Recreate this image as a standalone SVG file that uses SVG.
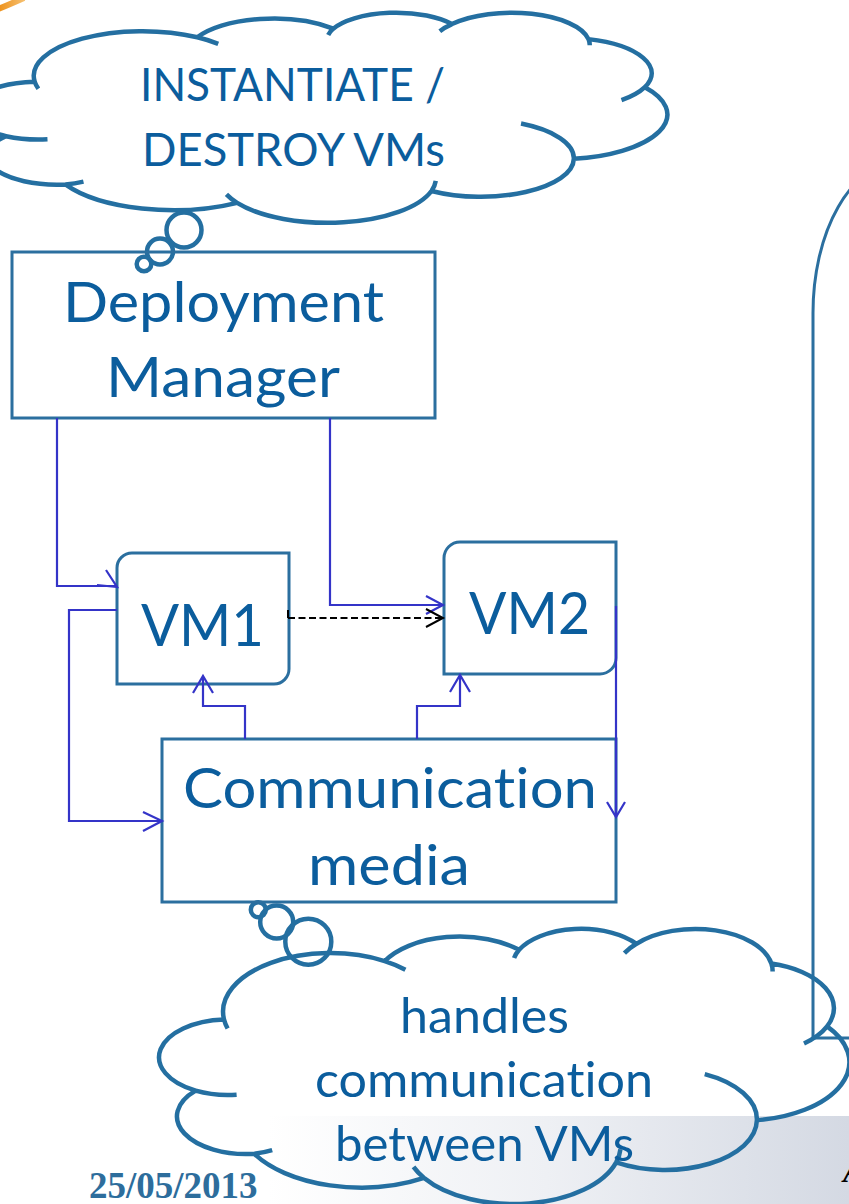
<svg xmlns="http://www.w3.org/2000/svg" width="849" height="1204" viewBox="0 0 849 1204">
  <defs>
    <linearGradient id="footerFade" x1="0" y1="0" x2="1" y2="0">
      <stop offset="0" stop-color="#ffffff"/>
      <stop offset="0.48" stop-color="#eef0f4"/>
      <stop offset="1" stop-color="#d4d9e3"/>
    </linearGradient>
    <linearGradient id="swoosh" gradientUnits="userSpaceOnUse" x1="0" y1="0" x2="26" y2="0">
      <stop offset="0" stop-color="#ee9420"/>
      <stop offset="1" stop-color="#f6c274"/>
    </linearGradient>
    <!-- cloud outline in a 100x100 box: eleven lobes plus the inner lobe tails -->
    <path id="cloud" vector-effect="non-scaling-stroke" d="M9.03 33.26 A15.63 21.27 0 0 1 32.42 12.04 A12.35 16.82 0 0 1 51.98 7.94 A10.10 13.76 0 0 1 69.06 5.75 A11.24 15.27 0 0 1 88.70 12.91 A12.35 16.84 0 0 1 96.81 35.79 A15.68 21.34 0 0 1 86.59 69.92 A13.39 18.21 0 0 1 66.11 85.22 A15.63 21.33 0 0 1 38.15 90.89 A17.87 24.41 0 0 1 13.44 82.11 A10.09 13.70 0 0 1 4.90 59.14 A10.06 13.76 0 0 1 9.03 33.26 Z M10.86 60.60 A10.06 13.76 0 0 1 4.90 59.14 M16.04 80.78 A10.09 13.70 0 0 1 13.44 82.11 M38.15 90.89 A15.63 21.33 0 0 1 36.61 86.87 M66.73 80.44 A15.63 21.33 0 0 1 66.11 85.22 M79.00 53.13 A13.39 18.21 0 0 1 86.59 69.92 M96.81 35.79 A12.35 16.84 0 0 1 93.45 41.99 M88.70 12.91 A11.24 15.27 0 0 1 88.88 15.83 M67.31 9.15 A11.24 15.27 0 0 1 69.06 5.75 M51.25 10.93 A10.10 13.76 0 0 1 51.98 7.94 M32.42 12.04 A15.63 21.27 0 0 1 35.43 15.16 M9.55 36.55 A15.63 21.27 0 0 1 9.03 33.26"/>
  </defs>
  <style>
    .cloud { fill: none; stroke: #246fa1; stroke-width: 4.5; }
    .bubble { fill: none; stroke: #246fa1; stroke-width: 4.5; }
    .box { fill: none; stroke: #2b6f9f; stroke-width: 3; }
    .label { font-family: Lato, "Open Sans", "DejaVu Sans", sans-serif; fill: #0b5d9d; font-variant-ligatures: none; font-feature-settings: "liga" 0, "clig" 0, "dlig" 0; }
    .link { fill: none; stroke: #3434c8; stroke-width: 2.2; }
    .dashed { fill: none; stroke: #000000; stroke-width: 2; stroke-dasharray: 7 3.5; }
    .tick { fill: none; stroke: #000000; stroke-width: 2; }
    .head { fill: none; stroke: #3434c8; stroke-width: 2.2; stroke-linejoin: miter; }
    .head-black { fill: none; stroke: #000000; stroke-width: 2; stroke-linejoin: miter; }
  </style>

  <!-- page decoration -->
  <rect x="268" y="1116" width="581" height="88" fill="url(#footerFade)"/>
  <path d="M-4 10 Q 8 5 24 -2" fill="none" stroke="url(#swoosh)" stroke-width="6"/>
  <text x="89" y="1198" font-family="'Liberation Serif', 'Times New Roman', serif" font-weight="bold" font-size="37" fill="#2d6d9c">25/05/2013</text>
  <text x="843" y="1182" font-family="'Liberation Serif', 'Times New Roman', serif" font-weight="bold" font-style="italic" font-size="32" fill="#000000">A</text>

  <!-- panel at the right edge -->
  <g id="right-panel">
    <path class="box" d="M849 1038 H813 V313 A86 150 0 0 1 899 163"/>
  </g>

  <!-- thought cloud above the deployment manager -->
  <g id="cloud-instantiate">
    <use href="#cloud" class="cloud" transform="translate(-28 12) scale(6.95 2.10)"/>
    <circle class="bubble" cx="184" cy="230" r="17.5"/>
    <circle class="bubble" cx="160" cy="251.5" r="13"/>
    <circle class="bubble" cx="144" cy="264" r="7.3"/>
    <text class="label" font-size="46" x="140" y="101" textLength="305" lengthAdjust="spacingAndGlyphs">INSTANTIATE /</text>
    <text class="label" font-size="46" x="142" y="166" textLength="303" lengthAdjust="spacingAndGlyphs">DESTROY VMs</text>
  </g>

  <!-- thought cloud below the communication media -->
  <g id="cloud-handles">
    <use href="#cloud" class="cloud" transform="translate(162 928) scale(6.87 2.75)"/>
    <circle class="bubble" cx="308.3" cy="941.7" r="23"/>
    <circle class="bubble" cx="276.7" cy="922" r="16.5"/>
    <circle class="bubble" cx="258.3" cy="909.7" r="7.5"/>
    <text class="label" font-size="48" x="400" y="1033" textLength="169" lengthAdjust="spacingAndGlyphs">handles</text>
    <text class="label" font-size="48" x="315" y="1097" textLength="338" lengthAdjust="spacingAndGlyphs">communication</text>
    <text class="label" font-size="48" x="335" y="1161" textLength="299" lengthAdjust="spacingAndGlyphs">between VMs</text>
  </g>

  <g id="deployment-manager">
    <rect class="box" x="12" y="252" width="423" height="166"/>
    <text class="label" font-size="57" x="63" y="322" textLength="321" lengthAdjust="spacingAndGlyphs">Deployment</text>
    <text class="label" font-size="57" x="106" y="397" textLength="234" lengthAdjust="spacingAndGlyphs">Manager</text>
  </g>

  <g id="vm1">
    <path class="box" d="M132 553 H289 V669 A15 15 0 0 1 274 684 H117 V568 A15 15 0 0 1 132 553 Z"/>
    <text class="label" font-size="58" x="141" y="646" textLength="123" lengthAdjust="spacingAndGlyphs">VM1</text>
  </g>

  <g id="vm2">
    <path class="box" d="M460 542 H616 V658 A16 16 0 0 1 600 674 H444 V558 A16 16 0 0 1 460 542 Z"/>
    <text class="label" font-size="58" x="469" y="634" textLength="121" lengthAdjust="spacingAndGlyphs">VM2</text>
  </g>

  <g id="communication-media">
    <rect class="box" x="162" y="739" width="454" height="163"/>
    <text class="label" font-size="57" x="183" y="808" textLength="414" lengthAdjust="spacingAndGlyphs">Communication</text>
    <text class="label" font-size="57" x="308" y="885" textLength="162" lengthAdjust="spacingAndGlyphs">media</text>
  </g>

  <g id="connectors">
    <!-- deployment manager to VM1 -->
    <path class="link" d="M57 418 V586 H117"/>
    <polyline class="head" points="106,570 117,587 97,585"/>
    <!-- deployment manager to VM2 -->
    <path class="link" d="M330 418 V605 H443"/>
    <polyline class="head" points="426,596 443,605 426,614"/>
    <!-- VM1 to VM2, dashed -->
    <path class="tick" d="M288 610 V618"/>
    <path class="dashed" d="M288 618 H442"/>
    <polyline class="head-black" points="426,609 443,618 426,627"/>
    <!-- VM1 to communication media -->
    <path class="link" d="M117 610 H69 V821 H161"/>
    <polyline class="head" points="143,812 162,821 143,831"/>
    <!-- communication media to VM1 -->
    <path class="link" d="M245 739 V706 H203 V677"/>
    <polyline class="head" points="193,693 203,676 213,693"/>
    <!-- communication media to VM2 -->
    <path class="link" d="M417 739 V706 H460 V676"/>
    <polyline class="head" points="450,692 460,675 470,692"/>
    <!-- VM2 to communication media -->
    <path class="link" d="M616 606 V816"/>
    <polyline class="head" points="607,802 616,817 625,802"/>
  </g>
</svg>
